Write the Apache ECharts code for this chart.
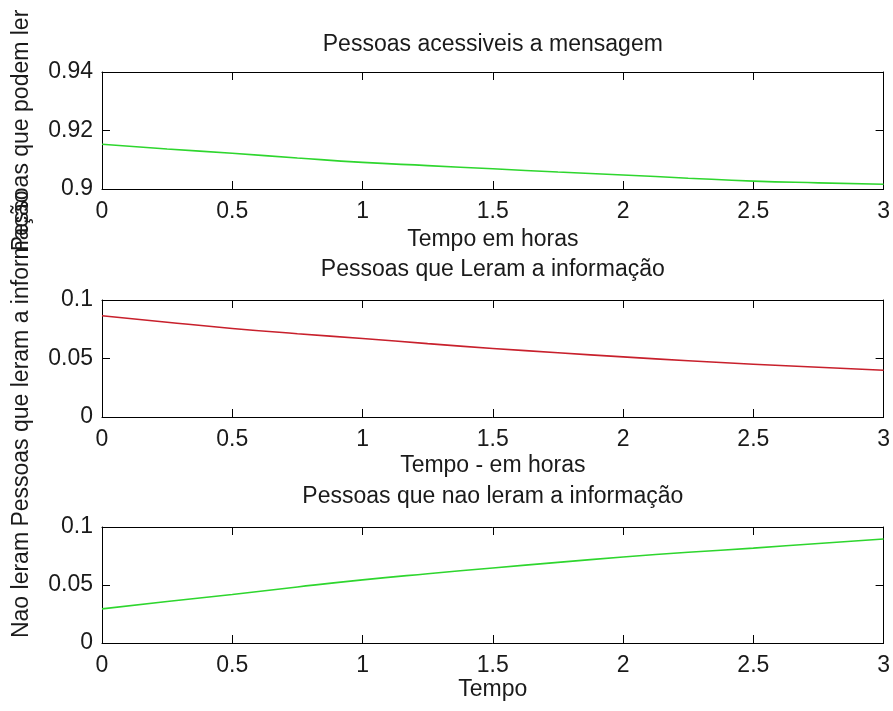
<!DOCTYPE html>
<html>
<head>
<meta charset="utf-8">
<script src="https://cdn.jsdelivr.net/npm/echarts@6/dist/echarts.min.js"></script>
<style>html,body{margin:0;padding:0;background:#fff;}#c{width:893px;height:711px;}</style>
</head>
<body>
<div id="c"></div>
<script>
// ---- data ----
var timeHours = [0, 0.25, 0.5, 0.75, 1, 1.25, 1.5, 1.75, 2, 2.25, 2.5, 2.75, 3];
var acessiveis = [0.9153, 0.9137, 0.9122, 0.9106, 0.9091, 0.9080, 0.9069, 0.9058, 0.9048, 0.9037, 0.9027, 0.9021, 0.9016];
var leram = [0.0866, 0.0810, 0.0757, 0.0712, 0.0671, 0.0627, 0.0586, 0.0549, 0.0514, 0.0481, 0.0451, 0.0425, 0.0400];
var naoLeram = [0.0294, 0.0358, 0.0418, 0.0483, 0.0544, 0.0597, 0.0647, 0.0695, 0.0741, 0.0782, 0.0818, 0.0858, 0.0897];

var titles = ['Pessoas acessiveis a mensagem', 'Pessoas que Leram a informação', 'Pessoas que nao leram a informação'];
var xNames = ['Tempo em horas', 'Tempo - em horas', 'Tempo'];
var yNames = ['Pessoas que podem ler', 'Pessoas que leram a informação', 'Nao leram'];
var yRanges = [[0.9, 0.94, 0.02], [0, 0.1, 0.05], [0, 0.1, 0.05]];
var seriesData = [acessiveis, leram, naoLeram];
var seriesColors = ['#2ed62e', '#c8202c', '#2ed62e'];

// ---- layout ----
var FONT = 'Liberation Sans, Arial, sans-serif';
var FS = 23;
var TXT = '#1a1a1a';
var grids = [
  {left: 102, right: 7, top: 72, height: 117},
  {left: 102, right: 7, top: 300, height: 117},
  {left: 102, right: 7, top: 527, height: 116}
];
var xNameGaps = [51, 49, 47];
var titleGaps = [27, 30, 30];

var xAxes = [], yAxes = [], series = [];
var lineStyle = {color: '#000', width: 1};
for (var i = 0; i < 3; i++) {
  xAxes.push({
    type: 'value', gridIndex: i, position: 'bottom', min: 0, max: 3, interval: 0.5,
    axisLine: {show: true, onZero: false, lineStyle: lineStyle},
    axisTick: {show: true, inside: true, length: 8, lineStyle: lineStyle},
    axisLabel: {show: true, margin: 11, color: TXT, fontSize: FS, fontFamily: FONT},
    splitLine: {show: false},
    name: xNames[i], nameLocation: 'middle', nameGap: xNameGaps[i],
    nameTextStyle: {color: TXT, fontSize: FS, fontFamily: FONT, verticalAlign: 'middle'}
  });
  xAxes.push({
    type: 'value', gridIndex: i, position: 'top', min: 0, max: 3, interval: 0.5,
    axisLine: {show: true, onZero: false, lineStyle: lineStyle},
    axisTick: {show: true, inside: true, length: 8, lineStyle: lineStyle},
    axisLabel: {show: false},
    splitLine: {show: false},
    name: titles[i], nameLocation: 'middle', nameGap: titleGaps[i],
    nameTextStyle: {color: TXT, fontSize: FS, fontFamily: FONT, verticalAlign: 'middle'}
  });
  var r = yRanges[i];
  yAxes.push({
    type: 'value', gridIndex: i, position: 'left', min: r[0], max: r[1], interval: r[2],
    axisLine: {show: true, onZero: false, lineStyle: lineStyle},
    axisTick: {show: true, inside: true, length: 8, lineStyle: lineStyle},
    axisLabel: {show: true, margin: 9, color: TXT, fontSize: FS, fontFamily: FONT,
      formatter: function (v) { return String(parseFloat(v.toFixed(4))); }},
    splitLine: {show: false},
    name: yNames[i], nameLocation: 'middle', nameGap: 80, nameRotate: 90,
    nameTextStyle: {color: TXT, fontSize: FS, fontFamily: FONT, verticalAlign: 'middle'}
  });
  yAxes.push({
    type: 'value', gridIndex: i, position: 'right', min: r[0], max: r[1], interval: r[2],
    axisLine: {show: true, onZero: false, lineStyle: lineStyle},
    axisTick: {show: true, inside: true, length: 8, lineStyle: lineStyle},
    axisLabel: {show: false},
    splitLine: {show: false}
  });
  var pts = timeHours.map(function (t, k) { return [t, seriesData[i][k]]; });
  series.push({
    type: 'line', xAxisIndex: 2 * i, yAxisIndex: 2 * i, data: pts,
    showSymbol: false, symbol: 'none', smooth: true, animation: false,
    lineStyle: {color: seriesColors[i], width: 1.6}
  });
}

var chart = echarts.init(document.getElementById('c'), null, {renderer: 'canvas'});
chart.setOption({
  animation: false,
  backgroundColor: '#ffffff',
  grid: grids,
  xAxis: xAxes,
  yAxis: yAxes,
  series: series
});
</script>
</body>
</html>
